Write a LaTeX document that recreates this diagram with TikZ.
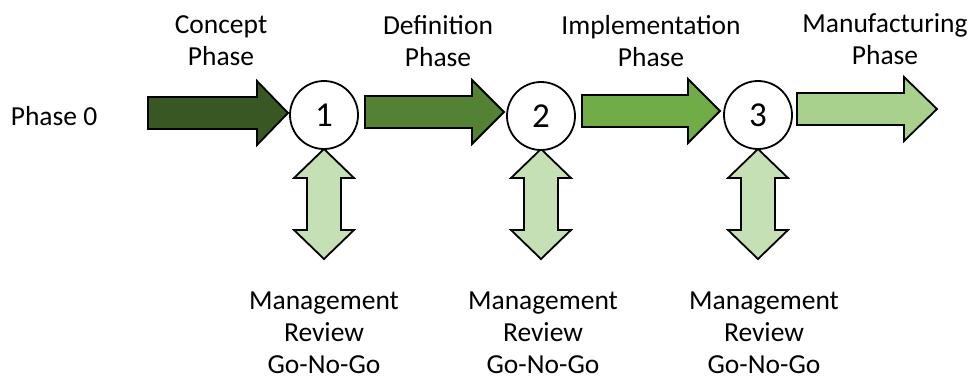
\documentclass[tikz,border=0pt]{standalone}
\usepackage{fontspec}
\setmainfont{Carlito}
\definecolor{gA}{HTML}{385723}
\definecolor{gB}{HTML}{548235}
\definecolor{gC}{HTML}{70AD47}
\definecolor{gD}{HTML}{A9D18E}
\definecolor{gE}{HTML}{C5E0B4}
\tikzset{
  shapeline/.style={draw=black, line width=1.8pt, line join=miter},
  gate/.style={circle, draw=black, fill=white, line width=1.8pt, minimum size=68pt, inner sep=0pt, font=\fontsize{35}{38}\selectfont},
  lbl/.style={align=center, inner sep=0pt, font=\fontsize{27.5}{32}\selectfont}
}
\begin{document}
\begin{tikzpicture}[x=1pt,y=-1pt]
\useasboundingbox (0,0) rectangle (971,381);
% phase arrows
\draw[shapeline, fill=gA] (148,97) -- (257,97) -- (257,81) -- (288,113) -- (257,145) -- (257,129) -- (148,129) -- cycle;
\draw[shapeline, fill=gB] (365,96) -- (472,96) -- (472,80) -- (504,112) -- (472,144) -- (472,128) -- (365,128) -- cycle;
\draw[shapeline, fill=gC] (582,95) -- (688,95) -- (688,79) -- (720,111) -- (688,143) -- (688,127) -- (582,127) -- cycle;
\draw[shapeline, fill=gD] (797,93) -- (904,93) -- (904,77) -- (937,109) -- (904,141) -- (904,125) -- (797,125) -- cycle;
% review double arrows
\foreach \cx in {324,541,758}{
  \draw[shapeline, fill=gE] (\cx,149) -- (\cx+30,178) -- (\cx+17,178) -- (\cx+17,230) -- (\cx+30,230) -- (\cx,259)
     -- (\cx-30,230) -- (\cx-17,230) -- (\cx-17,178) -- (\cx-30,178) -- cycle;
}
% gates
\node[gate] (g1) at (324,115) {1};
\node[gate] (g2) at (541,116) {2};
\node[gate] (g3) at (758,115) {3};
% labels
\node[lbl] (p0) at (54,116) {Phase 0};
\node[lbl] (t1) at (221,41) {Concept\\Phase};
\node[lbl] (t2) at (438,41) {Definition\\Phase};
\node[lbl] (t3) at (651,41) {Implementation\\Phase};
\node[lbl] (t4) at (885,39) {Manufacturing\\Phase};
\node[lbl] (b1) at (324,333) {Management\\Review\\Go-No-Go};
\node[lbl] (b2) at (543,333) {Management\\Review\\Go-No-Go};
\node[lbl] (b3) at (764,333) {Management\\Review\\Go-No-Go};
\end{tikzpicture}
\end{document}
